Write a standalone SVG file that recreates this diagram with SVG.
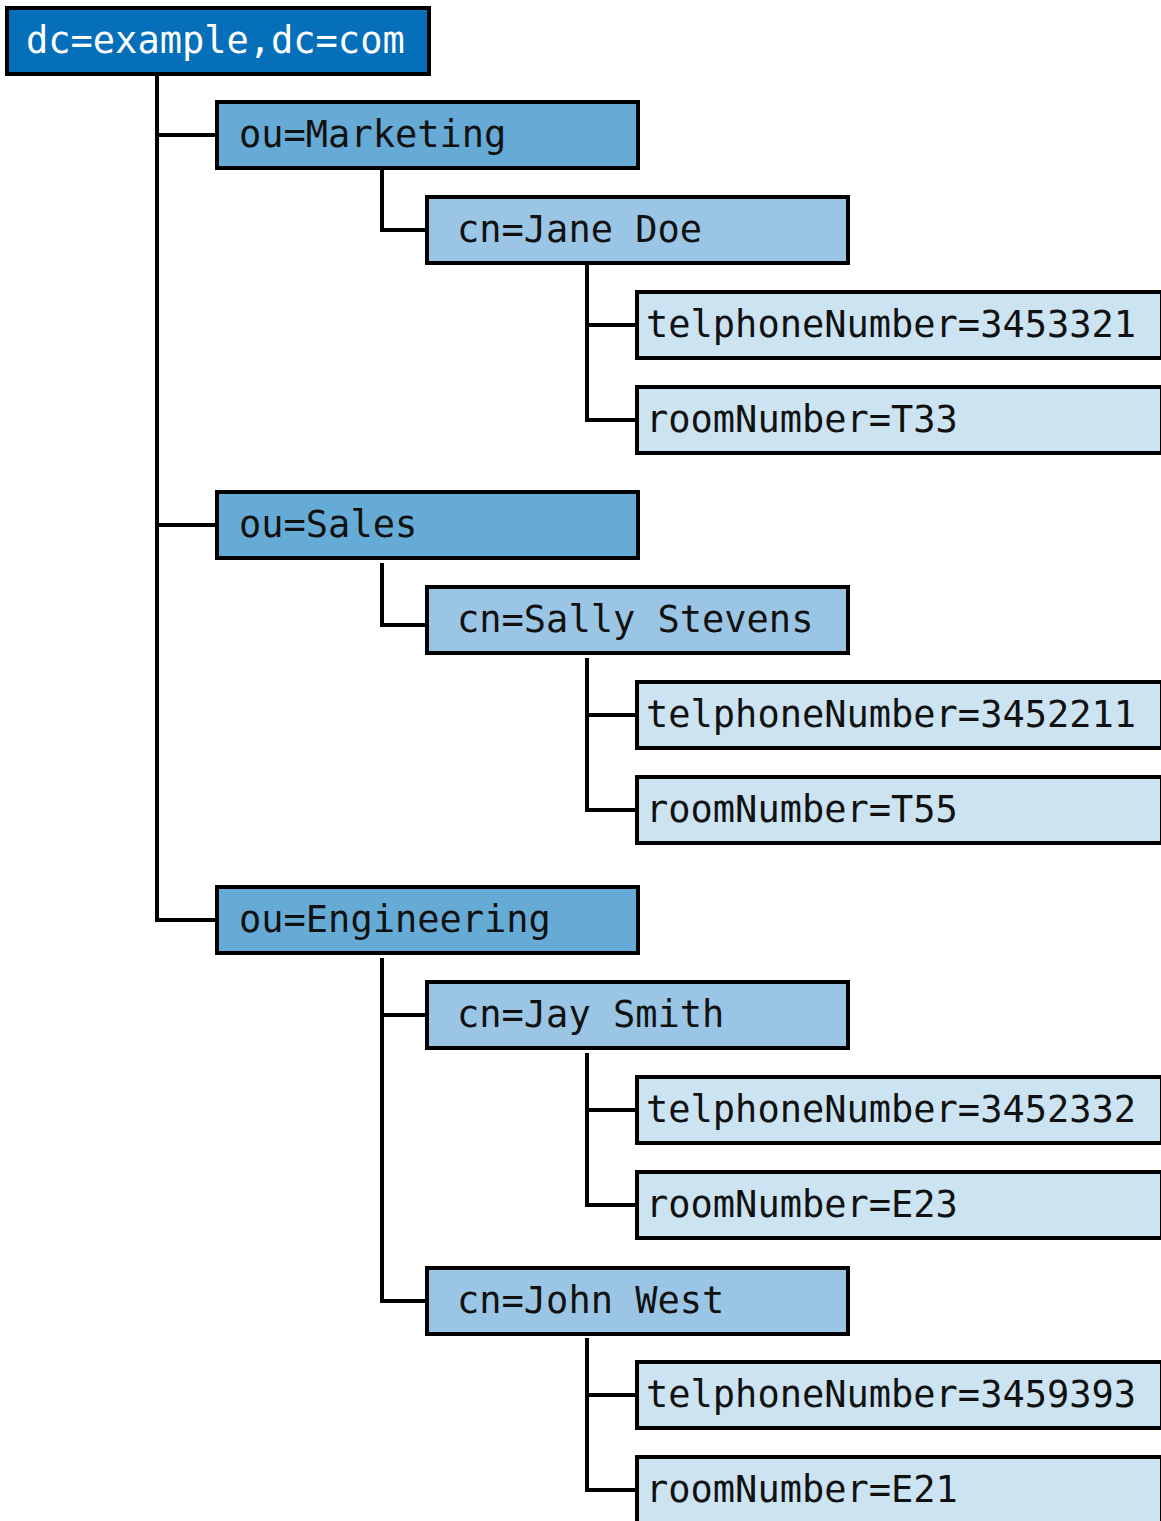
<svg xmlns="http://www.w3.org/2000/svg" width="1161" height="1521" viewBox="0 0 1161 1521">
<style>
rect{stroke:#000;stroke-width:4}
.root{fill:#0570b9}
.ou{fill:#66aad6}
.cn{fill:#9bc5e4}
.at{fill:#cce3f1}
text{font-family:"DejaVu Sans Mono","Liberation Mono",monospace;font-size:37px;fill:#111}
.w{fill:#fff}
#connectors path{fill:none;stroke:#000;stroke-width:4}
</style>
<rect x="0" y="0" width="1161" height="1521" fill="#fff" style="stroke:none"/>
<g id="connectors">
<path d="M157,74 V920 H217 M157,135 H217 M157,525 H217"/>
<path d="M382,170 V230 H427"/>
<path d="M382,563 V625 H427"/>
<path d="M382,958 V1301 H427 M382,1015 H427"/>
<path d="M587,265 V420 H637 M587,325 H637"/>
<path d="M587,658 V810 H637 M587,715 H637"/>
<path d="M587,1053 V1205 H637 M587,1110 H637"/>
<path d="M587,1338 V1490 H637 M587,1395 H637"/>
</g>
<g id="root"><rect class="root" x="7" y="8" width="422" height="66"/><text class="w" x="26" y="53">dc=example,dc=com</text></g>
<g id="marketing"><rect class="ou" x="217" y="102" width="421" height="66"/><text x="239" y="147">ou=Marketing</text></g>
<g id="jane"><rect class="cn" x="427" y="197" width="421" height="66"/><text x="457" y="242">cn=Jane Doe</text></g>
<g id="jane-tel"><rect class="at" x="637" y="292" width="525" height="66"/><text x="646" y="337">telphoneNumber=3453321</text></g>
<g id="jane-room"><rect class="at" x="637" y="387" width="525" height="66"/><text x="646" y="432">roomNumber=T33</text></g>
<g id="sales"><rect class="ou" x="217" y="492" width="421" height="66"/><text x="239" y="537">ou=Sales</text></g>
<g id="sally"><rect class="cn" x="427" y="587" width="421" height="66"/><text x="457" y="632">cn=Sally Stevens</text></g>
<g id="sally-tel"><rect class="at" x="637" y="682" width="525" height="66"/><text x="646" y="727">telphoneNumber=3452211</text></g>
<g id="sally-room"><rect class="at" x="637" y="777" width="525" height="66"/><text x="646" y="822">roomNumber=T55</text></g>
<g id="engineering"><rect class="ou" x="217" y="887" width="421" height="66"/><text x="239" y="932">ou=Engineering</text></g>
<g id="jay"><rect class="cn" x="427" y="982" width="421" height="66"/><text x="457" y="1027">cn=Jay Smith</text></g>
<g id="jay-tel"><rect class="at" x="637" y="1077" width="525" height="66"/><text x="646" y="1122">telphoneNumber=3452332</text></g>
<g id="jay-room"><rect class="at" x="637" y="1172" width="525" height="66"/><text x="646" y="1217">roomNumber=E23</text></g>
<g id="john"><rect class="cn" x="427" y="1268" width="421" height="66"/><text x="457" y="1313">cn=John West</text></g>
<g id="john-tel"><rect class="at" x="637" y="1362" width="525" height="66"/><text x="646" y="1407">telphoneNumber=3459393</text></g>
<g id="john-room"><rect class="at" x="637" y="1457" width="525" height="70"/><text x="646" y="1502">roomNumber=E21</text></g>
</svg>
